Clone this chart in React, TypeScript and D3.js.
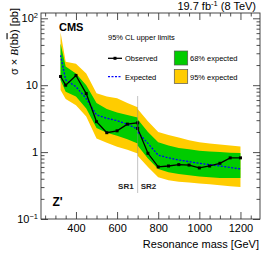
import React, { useEffect, useRef } from "react";
import * as d3 from "d3";

// Z' -> bb limits, 19.7 fb-1 at 8 TeV
const masses = [325, 350, 400, 450, 500, 550, 600, 650, 700, 700, 750, 800, 850, 900, 950, 1000, 1050, 1100, 1150, 1200];
const observed = [13.5, 10.0, 14.0, 7.5, 2.85, 1.95, 2.08, 2.62, 2.74, 2.26, 0.96, 0.6, 0.62, 0.65, 0.64, 0.58, 0.62, 0.68, 0.82, 0.82];
const expected = [28, 12, 9.5, 6.3, 3.6, 3.2, 2.95, 2.6, 2.2, 2.0, 1.35, 0.9, 0.82, 0.76, 0.72, 0.68, 0.65, 0.62, 0.59, 0.56];
const band68Up = [42, 19, 15, 10, 5.4, 4.4, 3.9, 3.6, 3.3, 3.1, 2.0, 1.4, 1.25, 1.15, 1.1, 1.05, 1.02, 1.0, 0.98, 0.97];
const band68Down = [12, 8, 6.8, 4.5, 2.3, 1.95, 1.75, 1.55, 1.35, 1.25, 0.8, 0.56, 0.5, 0.47, 0.45, 0.43, 0.42, 0.41, 0.41, 0.41];
const band95Up = [62, 22.5, 21, 15, 7.6, 6.8, 6.4, 5.4, 4.7, 4.4, 2.9, 2.0, 1.8, 1.65, 1.5, 1.4, 1.35, 1.3, 1.25, 1.21];
const band95Down = [8.5, 6.2, 5.0, 3.4, 1.6, 1.38, 1.2, 1.08, 0.95, 0.88, 0.6, 0.42, 0.38, 0.36, 0.35, 0.34, 0.33, 0.32, 0.31, 0.3];

const xMajor = [400, 600, 800, 1000, 1200];
const xMinor = [250, 300, 350, 450, 500, 550, 650, 700, 750, 850, 900, 950, 1050, 1100, 1150, 1250];
const yMajor = [0.1, 1, 10, 100];
const yLabels = [["10", "\u22121"], ["1", ""], ["10", ""], ["10", "2"]];
const yMinor = [0.2, 0.3, 0.4, 0.5, 0.6, 0.7, 0.8, 0.9, 2, 3, 4, 5, 6, 7, 8, 9, 20, 30, 40, 50, 60, 70, 80, 90];

const font = "'Liberation Sans', Arial, sans-serif";

const App = () => {
  const ref = useRef<SVGSVGElement>(null);

  useEffect(() => {
    const svg = d3.select(ref.current);
    svg.selectAll("*").remove();

    const left = 41, right = 260, top = 13, bottom = 219;
    const x = d3.scaleLinear().domain([230, 1295]).range([left, right]);
    const y = d3.scaleLog().domain([0.1, 120]).range([bottom, top]);
    const idx = d3.range(masses.length);

    // bands
    const band = (lo: number[], hi: number[]) =>
      d3.area<number>().x(i => x(masses[i])).y0(i => y(lo[i])).y1(i => y(hi[i]));
    svg.append("path").datum(idx).attr("d", band(band95Down, band95Up)).attr("fill", "#ffcc00");
    svg.append("path").datum(idx).attr("d", band(band68Down, band68Up)).attr("fill", "#00cc00");

    // expected
    const line = (vals: number[]) => d3.line<number>().x(i => x(masses[i])).y(i => y(vals[i]));
    svg.append("path").datum(idx).attr("d", line(expected))
      .attr("fill", "none").attr("stroke", "#0000ff").attr("stroke-width", 1.3).attr("stroke-dasharray", "2,1.5");

    // observed
    svg.append("path").datum(idx).attr("d", line(observed))
      .attr("fill", "none").attr("stroke", "#000").attr("stroke-width", 1.3);
    svg.selectAll(".obs").data(idx).enter().append("rect")
      .attr("x", i => x(masses[i]) - 1.5).attr("y", i => y(observed[i]) - 1.5)
      .attr("width", 3).attr("height", 3).attr("fill", "#000");

    // SR1 / SR2 divider
    svg.append("line").attr("x1", x(700)).attr("x2", x(700)).attr("y1", 96).attr("y2", 193)
      .attr("stroke", "#888").attr("stroke-width", 0.5);
    svg.append("text").attr("x", x(700) - 4).attr("y", 188.5).attr("text-anchor", "end")
      .attr("font-family", font).attr("font-size", 8).attr("font-weight", "bold").attr("fill", "#222").text("SR1");
    svg.append("text").attr("x", x(700) + 3).attr("y", 188.5)
      .attr("font-family", font).attr("font-size", 8).attr("font-weight", "bold").attr("fill", "#222").text("SR2");

    // axes, ticks inside on all sides
    const drawAxis = (axis: any, transform: string) => {
      const g = svg.append("g").attr("transform", transform).call(axis);
      g.select(".domain").remove();
      g.selectAll("line").attr("stroke", "#222").attr("stroke-width", 0.8);
      g.selectAll("text").attr("font-size", 11).attr("font-family", font).attr("fill", "#000");
      return g;
    };
    const blank = () => "";
    drawAxis(d3.axisBottom(x).tickValues(xMajor).tickSize(-7).tickPadding(5).tickFormat(d3.format("d") as any), `translate(0,${bottom})`);
    drawAxis(d3.axisBottom(x).tickValues(xMinor).tickSize(-3.5).tickFormat(blank), `translate(0,${bottom})`);
    drawAxis(d3.axisTop(x).tickValues(xMajor).tickSize(-7).tickFormat(blank), `translate(0,${top})`);
    drawAxis(d3.axisTop(x).tickValues(xMinor).tickSize(-3.5).tickFormat(blank), `translate(0,${top})`);
    drawAxis(d3.axisLeft(y).tickValues(yMajor).tickSize(-7).tickFormat(blank), `translate(${left},0)`);
    drawAxis(d3.axisLeft(y).tickValues(yMinor).tickSize(-3.5).tickFormat(blank), `translate(${left},0)`);
    drawAxis(d3.axisRight(y).tickValues(yMajor).tickSize(-7).tickFormat(blank), `translate(${right},0)`);
    drawAxis(d3.axisRight(y).tickValues(yMinor).tickSize(-3.5).tickFormat(blank), `translate(${right},0)`);

    svg.append("rect").attr("x", left).attr("y", top).attr("width", right - left).attr("height", bottom - top)
      .attr("fill", "none").attr("stroke", "#333").attr("stroke-width", 0.9);

    // y tick labels with exponents
    yMajor.forEach((v, i) => {
      const t = svg.append("text").attr("x", 38).attr("y", y(v) + 4).attr("text-anchor", "end")
        .attr("font-family", font).attr("font-size", 11);
      t.append("tspan").text(yLabels[i][0]);
      if (yLabels[i][1]) t.append("tspan").attr("dy", -4.5).attr("font-size", 7.5).text(yLabels[i][1]);
    });

    // axis titles
    svg.append("text").attr("x", 259).attr("y", 248).attr("text-anchor", "end")
      .attr("font-family", font).attr("font-size", 11).text("Resonance mass [GeV]");
    const yl = svg.append("text").attr("transform", "translate(17.5,8) rotate(-90)").attr("text-anchor", "end")
      .attr("font-family", font).attr("font-size", 11);
    yl.append("tspan").text("\u03c3 \u00d7 ");
    yl.append("tspan").attr("font-style", "italic").attr("font-family", "'Liberation Serif', serif").text("B");
    yl.append("tspan").text("(b");
    yl.append("tspan").attr("text-decoration", "overline").text("b");
    yl.append("tspan").text(") [pb]");

    // lumi
    const lumi = svg.append("text").attr("x", 256).attr("y", 10).attr("text-anchor", "end")
      .attr("font-family", font).attr("font-size", 11);
    lumi.append("tspan").text("19.7 fb");
    lumi.append("tspan").attr("dy", -4).attr("font-size", 7.5).text("-1");
    lumi.append("tspan").attr("dy", 4).text(" (8 TeV)");

    svg.append("text").attr("x", 59).attr("y", 31).attr("font-family", font).attr("font-size", 11)
      .attr("font-weight", "bold").text("CMS");
    svg.append("text").attr("x", 52.5).attr("y", 206).attr("font-family", font).attr("font-size", 12)
      .attr("font-weight", "bold").text("Z'");

    // legend
    const lg = svg.append("g").attr("font-family", font).attr("font-size", 7.5);
    lg.append("text").attr("x", 108).attr("y", 40).text("95% CL upper limits");
    lg.append("line").attr("x1", 108).attr("x2", 122).attr("y1", 58.3).attr("y2", 58.3).attr("stroke", "#000").attr("stroke-width", 1.3);
    lg.append("rect").attr("x", 113.5).attr("y", 56.8).attr("width", 3).attr("height", 3).attr("fill", "#000");
    lg.append("text").attr("x", 125).attr("y", 61).text("Observed");
    lg.append("line").attr("x1", 108).attr("x2", 122).attr("y1", 76.7).attr("y2", 76.7)
      .attr("stroke", "#0000ff").attr("stroke-width", 1.3).attr("stroke-dasharray", "2,1.5");
    lg.append("text").attr("x", 125).attr("y", 79.5).text("Expected");
    lg.append("rect").attr("x", 174.3).attr("y", 51).attr("width", 13.4).attr("height", 14)
      .attr("fill", "#00cc00").attr("stroke", "#555").attr("stroke-width", 0.7);
    lg.append("text").attr("x", 190).attr("y", 61).text("68% expected");
    lg.append("rect").attr("x", 174.3).attr("y", 69.5).attr("width", 13.4).attr("height", 14)
      .attr("fill", "#ffcc00").attr("stroke", "#555").attr("stroke-width", 0.7);
    lg.append("text").attr("x", 190).attr("y", 79.5).text("95% expected");
  }, []);

  return <svg ref={ref} width={266} height={258} style={{ position: "absolute", left: 0, top: 0 }} />;
};

export default App;
